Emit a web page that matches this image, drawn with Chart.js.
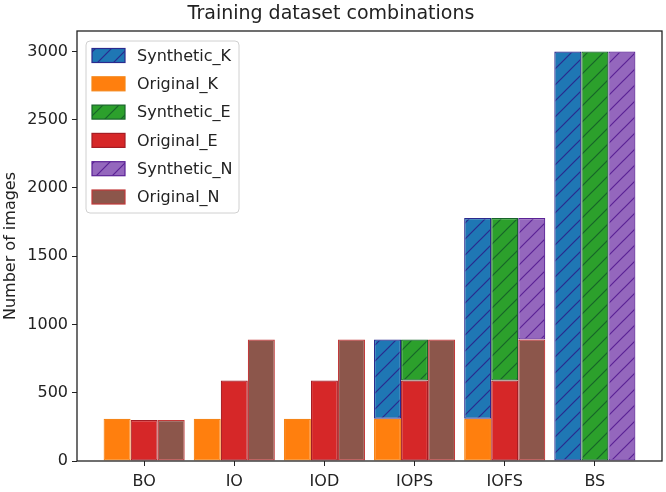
<!DOCTYPE html>
<html>
<head>
<meta charset="utf-8">
<script src="https://cdn.jsdelivr.net/npm/chart.js@4.4.1/dist/chart.umd.min.js"></script>
<style>
  html, body { margin: 0; padding: 0; background: #fff; }
  #wrap { width: 666px; height: 492px; }
</style>
</head>
<body>
<div id="wrap"><canvas id="chart" width="666" height="492"></canvas></div>
<script>
// data
const categories = ['BO', 'IO', 'IOD', 'IOPS', 'IOFS', 'BS'];
const originalK  = [310, 310, 310, 310, 310, null];
const syntheticK = [null, null, null, 580, 1470, 3000];
const originalE  = [300, 590, 590, 590, 590, null];
const syntheticE = [null, null, null, 300, 1190, 3000];
const originalN  = [300, 890, 890, 890, 890, null];
const syntheticN = [null, null, null, null, 890, 3000];
const yTicks = [0, 500, 1000, 1500, 2000, 2500, 3000];

const FONT = 'DejaVu Sans';
const TEXT = '#222';

// hatch '/' fill like matplotlib
function hatch(base, line) {
    const s = 16;
    const c = document.createElement('canvas');
    c.width = s; c.height = s;
    const g = c.getContext('2d');
    g.fillStyle = base;
    g.fillRect(0, 0, s, s);
    g.strokeStyle = line;
    g.lineWidth = 1.2;
    g.beginPath();
    g.moveTo(0, s); g.lineTo(s, 0);
    g.moveTo(-2, 2); g.lineTo(2, -2);
    g.moveTo(s - 2, s + 2); g.lineTo(s + 2, s - 2);
    g.stroke();
    return g.createPattern(c, 'repeat');
}

const toXY = arr => arr.map((v, i) => ({ x: i, y: v }));

function ds(label, values, stack, fill, edge) {
    return {
        label: label,
        data: toXY(values),
        stack: stack,
        backgroundColor: fill,
        borderColor: edge,
        borderWidth: 1.2,
        borderSkipped: false,
        categoryPercentage: 0.9,
        barPercentage: 1.0
    };
}

const datasets = [
    ds('Original_K', originalK, 'K', '#ff7f0e', '#f58518'),
    ds('Synthetic_K', syntheticK, 'K', hatch('#1f77b4', '#2a2a8e'), '#2a2a8e'),
    ds('Original_E', originalE, 'E', '#d62728', '#a51d24'),
    ds('Synthetic_E', syntheticE, 'E', hatch('#2ca02c', '#17642a'), '#17642a'),
    ds('Original_N', originalN, 'N', '#8c564b', '#c23a3a'),
    ds('Synthetic_N', syntheticN, 'N', hatch('#9467bd', '#5b2296'), '#5b2296')
];
const legendOrder = ['Synthetic_K', 'Original_K', 'Synthetic_E', 'Original_E', 'Synthetic_N', 'Original_N'];

// box round the plot + legend inside the upper left corner
const framePlugin = {
    id: 'frame',
    afterDraw(chart) {
        const { ctx, chartArea: a } = chart;
        ctx.save();
        ctx.strokeStyle = TEXT;
        ctx.lineWidth = 1.3;
        ctx.strokeRect(a.left, a.top, a.right - a.left, a.bottom - a.top);

        const bx = 86, by = 41, bw = 153, bh = 172;
        ctx.fillStyle = 'rgba(255,255,255,0.85)';
        ctx.strokeStyle = '#d0d0d0';
        ctx.lineWidth = 1;
        ctx.beginPath();
        ctx.roundRect(bx, by, bw, bh, 4);
        ctx.fill();
        ctx.stroke();

        ctx.font = '16px "' + FONT + '"';
        ctx.textBaseline = 'middle';
        legendOrder.forEach((name, i) => {
            const d = chart.data.datasets.find(x => x.label === name);
            const cy = 55.5 + i * 28.3;
            ctx.fillStyle = d.backgroundColor;
            ctx.fillRect(92, cy - 7, 33, 14);
            ctx.strokeStyle = d.borderColor;
            ctx.lineWidth = 1.2;
            ctx.strokeRect(92, cy - 7, 33, 14);
            ctx.fillStyle = TEXT;
            ctx.fillText(name, 137, cy + 1);
        });
        ctx.restore();
    }
};

new Chart(document.getElementById('chart'), {
    type: 'bar',
    data: { datasets: datasets },
    options: {
        responsive: false,
        animation: false,
        layout: { padding: { left: 0, right: 4, top: 0, bottom: 0 } },
        plugins: {
            legend: { display: false },
            tooltip: { enabled: false },
            title: {
                display: true,
                text: 'Training dataset combinations',
                color: TEXT,
                font: { family: FONT, size: 19, weight: 'normal' },
                padding: { top: 3, bottom: 5.2 }
            }
        },
        scales: {
            x: {
                type: 'linear',
                min: -0.745,
                max: 5.745,
                offset: false,
                stacked: true,
                border: { display: false },
                grid: { display: true, offset: false, drawOnChartArea: false, drawTicks: true, tickLength: 5, color: TEXT },
                ticks: {
                    color: TEXT,
                    padding: 6,
                    font: { family: FONT, size: 16 },
                    callback: v => categories[v]
                },
                afterBuildTicks: s => { s.ticks = categories.map((c, i) => ({ value: i })); },
                afterFit: s => { s.height = 31; }
            },
            y: {
                min: 0,
                max: 3150,
                stacked: true,
                border: { display: false },
                grid: { display: true, drawOnChartArea: false, drawTicks: true, tickLength: 5, color: TEXT },
                ticks: {
                    color: TEXT,
                    padding: 4,
                    font: { family: FONT, size: 16 },
                    callback: v => String(v)
                },
                afterBuildTicks: s => { s.ticks = yTicks.map(v => ({ value: v })); },
                afterFit: s => { s.width = 77; },
                title: {
                    display: true,
                    text: 'Number of images',
                    color: TEXT,
                    font: { family: FONT, size: 16 },
                    padding: { top: 1, bottom: 0 }
                }
            }
        }
    },
    plugins: [framePlugin]
});
</script>
</body>
</html>
